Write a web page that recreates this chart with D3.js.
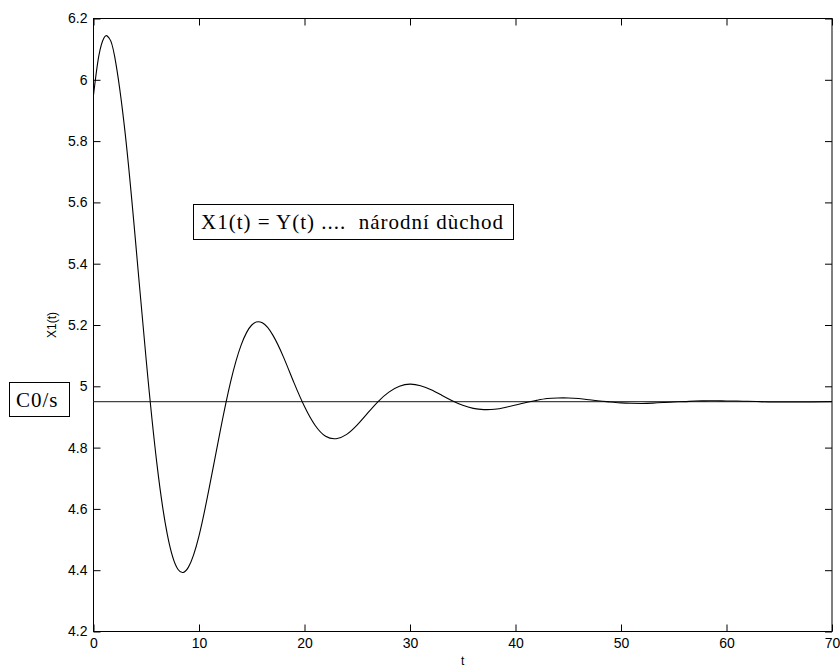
<!DOCTYPE html>
<html>
<head>
<meta charset="utf-8">
<script src="https://cdn.jsdelivr.net/npm/d3@7"></script>
<style>
  body { margin: 0; background: #fff; }
  svg { display: block; }
</style>
</head>
<body>
<div id="chart"></div>
<script>
// t values and X1(t)
var tValues = [0, 0.5, 1, 1.3, 1.5, 2, 3, 4, 5, 6, 7, 8, 9, 10, 11, 12, 13, 14, 15, 16, 17, 18, 19, 20,
  21, 22, 23, 24, 25, 26, 27, 28, 29, 30, 31, 32, 33, 34, 35, 36, 37, 38, 39, 40,
  41, 42, 43, 44, 45, 46, 47, 48, 49, 50, 51, 52, 53, 54, 55, 56, 57, 58, 59, 60,
  61, 62, 64, 66, 68, 70];
var x1Values = [5.950, 6.077, 6.137, 6.143, 6.135, 6.077, 5.826, 5.467, 5.084, 4.750, 4.516, 4.403, 4.410, 4.512,
  4.674, 4.852, 5.015, 5.135, 5.200, 5.207, 5.167, 5.096, 5.012, 4.934,
  4.873, 4.837, 4.829, 4.843, 4.874, 4.913, 4.951, 4.981, 5.000, 5.007, 5.002, 4.989, 4.971, 4.953, 4.938, 4.928,
  4.924, 4.925, 4.931, 4.939, 4.947, 4.954, 4.960, 4.962, 4.962, 4.960, 4.956, 4.952, 4.949, 4.946,
  4.9445, 4.944, 4.945, 4.947, 4.949, 4.950, 4.952, 4.9525, 4.953, 4.952, 4.952, 4.951, 4.949, 4.949, 4.949, 4.950];
var steadyState = 4.95;   // C0/s
var xTicks = [0, 10, 20, 30, 40, 50, 60, 70];
var yTicks = [4.2, 4.4, 4.6, 4.8, 5, 5.2, 5.4, 5.6, 5.8, 6, 6.2];

var width = 840, height = 670;
var plotLeft = 93.5, plotRight = 832, plotTop = 18.5, plotBottom = 631.5;

var svg = d3.select("#chart").append("svg")
  .attr("width", width)
  .attr("height", height);

var x = d3.scaleLinear().domain([0, 70]).range([plotLeft, plotRight]);
var y = d3.scaleLinear().domain([4.2, 6.2]).range([plotBottom, plotTop]);

var data = tValues.map(function(t, i) { return { t: t, v: x1Values[i] }; });

// axes with inward ticks
function styleAxis(g) {
  g.select(".domain").remove();
  g.selectAll("line").attr("stroke", "#000");
  g.selectAll("text")
    .attr("fill", "#000")
    .style("font-family", "Liberation Sans, Arial, sans-serif")
    .style("font-size", "14px");
}

svg.append("g")
  .attr("transform", "translate(0," + plotBottom + ")")
  .call(d3.axisBottom(x).tickValues(xTicks).tickSize(-7).tickPadding(7).tickFormat(String))
  .call(styleAxis);

svg.append("g")
  .attr("transform", "translate(0," + plotTop + ")")
  .call(d3.axisTop(x).tickValues(xTicks).tickSize(-7).tickFormat(""))
  .call(styleAxis);

svg.append("g")
  .attr("transform", "translate(" + plotLeft + ",0)")
  .call(d3.axisLeft(y).tickValues(yTicks).tickSize(-7).tickPadding(6).tickFormat(String))
  .call(styleAxis);

svg.append("g")
  .attr("transform", "translate(" + plotRight + ",0)")
  .call(d3.axisRight(y).tickValues(yTicks).tickSize(-7).tickFormat(""))
  .call(styleAxis);

svg.append("rect")
  .attr("x", plotLeft)
  .attr("y", plotTop)
  .attr("width", plotRight - plotLeft)
  .attr("height", plotBottom - plotTop)
  .attr("fill", "none")
  .attr("stroke", "#000")
  .attr("stroke-width", 1);

// steady state line
svg.append("line")
  .attr("x1", x(0))
  .attr("x2", x(70))
  .attr("y1", y(steadyState))
  .attr("y2", y(steadyState))
  .attr("stroke", "#444")
  .attr("stroke-width", 1.2);

// X1(t)
var line = d3.line()
  .x(function(d) { return x(d.t); })
  .y(function(d) { return y(d.v); })
  .curve(d3.curveNatural);

svg.append("path")
  .datum(data)
  .attr("d", line)
  .attr("fill", "none")
  .attr("stroke", "#000")
  .attr("stroke-width", 1.1);

// axis labels
svg.append("text")
  .attr("x", (plotLeft + plotRight) / 2)
  .attr("y", 665)
  .attr("text-anchor", "middle")
  .style("font-family", "Liberation Sans, Arial, sans-serif")
  .style("font-size", "12px")
  .text("t");

svg.append("text")
  .attr("transform", "translate(56," + ((plotTop + plotBottom) / 2) + ") rotate(-90)")
  .attr("text-anchor", "middle")
  .style("font-family", "Liberation Sans, Arial, sans-serif")
  .style("font-size", "12px")
  .text("X1(t)");

// annotation boxes
function labelBox(bx, by, bw, bh, tx, ty, txt) {
  svg.append("rect")
    .attr("x", bx).attr("y", by)
    .attr("width", bw).attr("height", bh)
    .attr("fill", "#fff")
    .attr("stroke", "#000")
    .attr("stroke-width", 1);
  svg.append("text")
    .attr("x", tx).attr("y", ty)
    .style("font-family", "Liberation Serif, Times New Roman, serif")
    .style("font-size", "21px")
    .style("letter-spacing", "1px")
    .style("white-space", "pre")
    .text(txt);
}

labelBox(193.5, 204.5, 320, 35, 201, 229, "X1(t) = Y(t) ....  národní dùchod");
labelBox(9.5, 382.5, 60, 34, 16, 407, "C0/s");
</script>
</body>
</html>
